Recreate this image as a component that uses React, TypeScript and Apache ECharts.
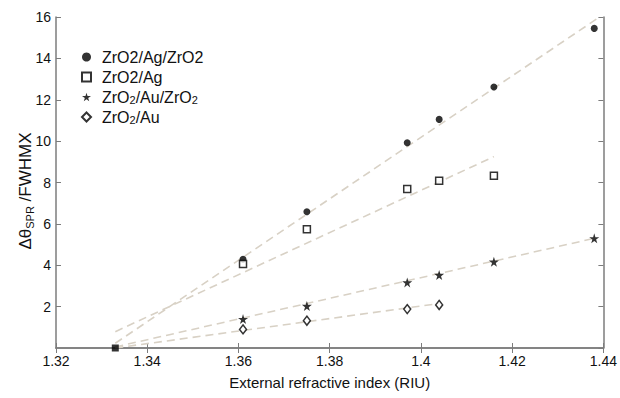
import React, { useEffect, useRef } from "react";
import * as echarts from "echarts";

// Measured data
const seriesNames = ["ZrO2/Ag/ZrO2", "ZrO2/Ag", "ZrO2/Au/ZrO2", "ZrO2/Au"];

const xAgZr = [1.361, 1.375, 1.397, 1.404, 1.416, 1.438];
const yAgZr = [4.29, 6.59, 9.92, 11.05, 12.62, 15.45];

const xAg = [1.361, 1.375, 1.397, 1.404, 1.416];
const yAg = [4.06, 5.74, 7.68, 8.09, 8.33];

const xAuZr = [1.361, 1.375, 1.397, 1.404, 1.416, 1.438];
const yAuZr = [1.4, 2.03, 3.17, 3.53, 4.17, 5.3];

const xAu = [1.361, 1.375, 1.397, 1.404];
const yAu = [0.9, 1.32, 1.88, 2.08];

// common reference point (water)
const originX = [1.333];
const originY = [0];

// dashed linear fits (end points)
const fitAgZrX = [1.333, 1.4385];
const fitAgZrY = [0.23, 15.9];
const fitAgX = [1.333, 1.416];
const fitAgY = [0.79, 9.25];
const fitAuZrX = [1.333, 1.438];
const fitAuZrY = [0.05, 5.3];
const fitAuX = [1.333, 1.404];
const fitAuY = [0.0, 2.15];

const xTicksMin = 1.32;
const xTicksMax = 1.44;
const xInterval = 0.02;
const yMin = 0;
const yMax = 16;
const yInterval = 2;

const xAxisTitle = "External refractive index (RIU)";
const yAxisTitle = "{a|Δθ}{s|SPR}{a| /FWHMX}";

const STAR =
  "path://M50,0 L61,35 L98,35 L68,57 L79,91 L50,70 L21,91 L32,57 L2,35 L39,35 Z";

const zip = (xs: number[], ys: number[]) => xs.map((x, i) => [x, ys[i]]);

const FONT = "Liberation Sans, Arial, sans-serif";
const AXIS_COLOR = "#7c7c7c";
const FIT_COLOR = "#d8d1c5";

export default function App() {
  const ref = useRef<HTMLDivElement>(null);
  useEffect(() => {
    if (!ref.current) return;
    const chart = echarts.init(ref.current, undefined, { renderer: "svg" });

    const fitLine = (name: string, xs: number[], ys: number[]) => ({
      name: name + " fit",
      type: "line",
      data: zip(xs, ys),
      showSymbol: false,
      symbol: "none",
      silent: true,
      z: 1,
      lineStyle: { color: FIT_COLOR, width: 1.6, type: [8, 5] },
    });

    const legendFormatter = (name: string) => {
      if (name === "ZrO2/Au/ZrO2") return "{t|ZrO}{s|2}{t|/Au/ZrO}{s|2}";
      if (name === "ZrO2/Au") return "{t|ZrO}{s|2}{t|/Au}";
      return "{t|" + name + "}";
    };

    chart.setOption({
      animation: false,
      backgroundColor: "#ffffff",
      grid: { left: 56, right: 14, top: 17, bottom: 50, containLabel: false },
      graphic: [
        {
          type: "text",
          x: 25,
          y: 191,
          rotation: Math.PI / 2,
          style: {
            text: yAxisTitle,
            align: "center",
            verticalAlign: "middle",
            fontFamily: FONT,
            fontSize: 17,
            fill: "#111",
            rich: {
              a: { fontFamily: FONT, fontSize: 17, fill: "#111", lineHeight: 20 },
              s: {
                fontFamily: FONT,
                fontSize: 11,
                fill: "#111",
                lineHeight: 20,
                verticalAlign: "bottom",
                padding: [6, 0, 0, 0],
              },
            },
          },
        },
      ],
      legend: {
        orient: "vertical",
        left: 76,
        top: 44,
        itemWidth: 9,
        itemHeight: 9,
        itemGap: 4,
        formatter: legendFormatter,
        data: [
          { name: seriesNames[0], icon: "circle" },
          { name: seriesNames[1], icon: "rect" },
          { name: seriesNames[2], icon: STAR },
          { name: seriesNames[3], icon: "diamond" },
        ],
        textStyle: {
          fontFamily: FONT,
          fontSize: 16,
          color: "#111",
          lineHeight: 16,
          padding: [0, 0, 0, 6],
          rich: {
            t: { fontFamily: FONT, fontSize: 16, color: "#111", lineHeight: 16 },
            s: {
              fontFamily: FONT,
              fontSize: 11,
              color: "#111",
              lineHeight: 11,
              verticalAlign: "bottom",
              padding: [4, 0, 0, 0],
            },
          },
        },
      },
      xAxis: [
        {
          type: "value",
          min: xTicksMin,
          max: xTicksMax,
          interval: xInterval,
          name: xAxisTitle,
          nameLocation: "middle",
          nameGap: 27,
          nameTextStyle: { fontFamily: FONT, fontSize: 15, color: "#111" },
          axisLine: { show: true, lineStyle: { color: AXIS_COLOR, width: 1.5 } },
          axisTick: { show: true, inside: true, length: 5, lineStyle: { color: AXIS_COLOR } },
          splitLine: { show: false },
          axisLabel: {
            fontFamily: FONT,
            fontSize: 14,
            color: "#111",
            margin: 6,
            formatter: (v: number) => String(parseFloat(v.toFixed(2))),
          },
        },
        {
          type: "value",
          position: "top",
          min: xTicksMin,
          max: xTicksMax,
          interval: xInterval,
          axisLine: { show: true, lineStyle: { color: AXIS_COLOR, width: 1.5 } },
          axisTick: { show: true, inside: true, length: 5, lineStyle: { color: AXIS_COLOR } },
          axisLabel: { show: false },
          splitLine: { show: false },
        },
      ],
      yAxis: [
        {
          type: "value",
          min: yMin,
          max: yMax,
          interval: yInterval,
          axisLine: { show: true, lineStyle: { color: AXIS_COLOR, width: 1.5 } },
          axisTick: { show: true, inside: true, length: 5, lineStyle: { color: AXIS_COLOR } },
          splitLine: { show: false },
          axisLabel: {
            fontFamily: FONT,
            fontSize: 14,
            color: "#111",
            margin: 5,
            showMinLabel: false,
          },
        },
        {
          type: "value",
          position: "right",
          min: yMin,
          max: yMax,
          interval: yInterval,
          axisLine: { show: true, lineStyle: { color: AXIS_COLOR, width: 1.5 } },
          axisTick: { show: true, inside: true, length: 5, lineStyle: { color: AXIS_COLOR } },
          axisLabel: { show: false },
          splitLine: { show: false },
        },
      ],
      series: [
        fitLine(seriesNames[0], fitAgZrX, fitAgZrY),
        fitLine(seriesNames[1], fitAgX, fitAgY),
        fitLine(seriesNames[2], fitAuZrX, fitAuZrY),
        fitLine(seriesNames[3], fitAuX, fitAuY),
        {
          name: seriesNames[0],
          type: "scatter",
          data: zip(xAgZr, yAgZr),
          symbol: "circle",
          symbolSize: 7,
          z: 3,
          itemStyle: { color: "#000" },
        },
        {
          name: seriesNames[1],
          type: "scatter",
          data: zip(xAg, yAg),
          symbol: "rect",
          symbolSize: 7,
          z: 3,
          itemStyle: { color: "#fff", borderColor: "#000", borderWidth: 1.5 },
        },
        {
          name: seriesNames[2],
          type: "scatter",
          data: zip(xAuZr, yAuZr),
          symbol: STAR,
          symbolSize: 10,
          z: 3,
          itemStyle: { color: "#000" },
        },
        {
          name: seriesNames[3],
          type: "scatter",
          data: zip(xAu, yAu),
          symbol: "diamond",
          symbolSize: [7, 9],
          z: 3,
          itemStyle: { color: "#fff", borderColor: "#000", borderWidth: 1.5 },
        },
        {
          name: "reference",
          type: "scatter",
          data: zip(originX, originY),
          symbol: "rect",
          symbolSize: 7,
          z: 4,
          itemStyle: { color: "#000" },
        },
      ],
    });
    return () => chart.dispose();
  }, []);
  return (
    <div
      ref={ref}
      style={{ position: "fixed", left: 0, top: 0, width: 620, height: 398, background: "#fff" }}
    />
  );
}
